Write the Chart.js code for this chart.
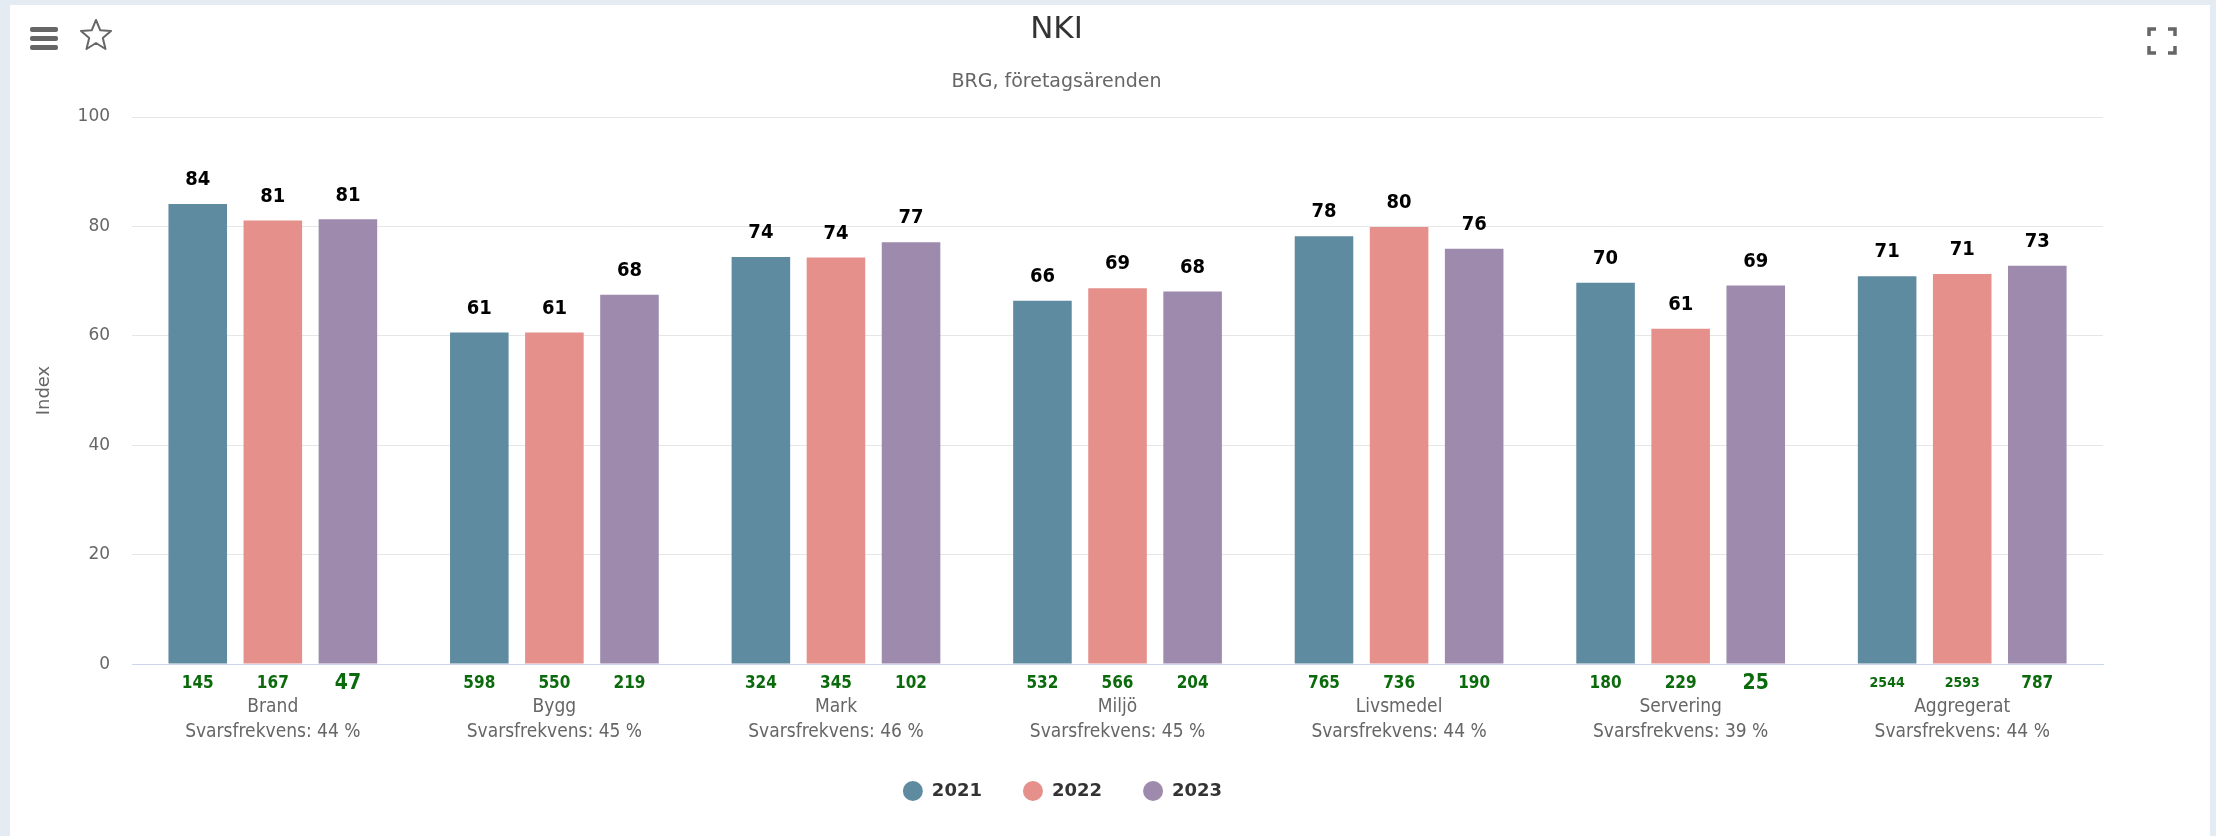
<!DOCTYPE html>
<html>
<head>
<meta charset="utf-8">
<title>NKI</title>
<script src="https://cdn.jsdelivr.net/npm/chart.js@4.4.1/dist/chart.umd.min.js"></script>
<style>
  html, body { margin: 0; padding: 0; width: 2216px; height: 836px; overflow: hidden; background: #e4ebf3; }
  #card { position: absolute; left: 10px; top: 5px; width: 2200px; height: 831px; background: #fff; }
  #chart { display: block; }
  .menu { position: absolute; left: 20px; top: 22px; width: 28px; }
  .menu span { display: block; height: 5px; margin-bottom: 4px; background: #666; border-radius: 2px; }
  .icon { position: absolute; }
</style>
</head>
<body>
<div id="card">
  <canvas id="chart" width="2200" height="831"></canvas>
  <div class="menu"><span></span><span></span><span></span></div>
  <svg class="icon" style="left:69px;top:13px" width="34" height="34" viewBox="0 0 34 34">
    <polygon points="17,2 21.3,12.3 32,13 23.8,20 26.5,31 17,25 7.5,31 10.2,20 2,13 12.7,12.3"
             fill="none" stroke="#666" stroke-width="2" stroke-linejoin="round"/>
  </svg>
  <svg class="icon" style="left:2137px;top:22px" width="30" height="28" viewBox="0 0 30 28">
    <g fill="none" stroke="#666" stroke-width="3.5">
      <polyline points="2,9 2,2 9,2"/><polyline points="21,2 28,2 28,9"/>
      <polyline points="2,19 2,26 9,26"/><polyline points="21,26 28,26 28,19"/>
    </g>
  </svg>
</div>
<script>
// NKI per verksamhet och år
const categories = ['Brand', 'Bygg', 'Mark', 'Miljö', 'Livsmedel', 'Servering', 'Aggregerat'];
const responseRates = [44, 45, 46, 45, 44, 39, 44];
const years = ['2021', '2022', '2023'];
const nki2021 = [84.1, 60.6, 74.4, 66.4, 78.2, 69.7, 70.9];
const nki2022 = [81.1, 60.6, 74.3, 68.7, 79.9, 61.3, 71.3];
const nki2023 = [81.3, 67.5, 77.1, 68.1, 75.9, 69.2, 72.8];
// antal svar under staplarna
const answers2021 = [145, 598, 324, 532, 765, 180, 2544];
const answers2022 = [167, 550, 345, 566, 736, 229, 2593];
const answers2023 = [47, 219, 102, 204, 190, 25, 787];
const yTicks = [0, 20, 40, 60, 80, 100];

const colors = ['#5f8ba1', '#e5908b', '#9d8aac'];
const answers = [answers2021, answers2022, answers2023];
const narrow = '"Liberation Sans Narrow", "DejaVu Sans Condensed", "Noto Sans", sans-serif';

// value labels above bars and answer counts under the axis
const labelsPlugin = {
    id: 'labelsPlugin',
    afterDatasetsDraw(chart) {
        const ctx = chart.ctx;
        const axisY = chart.scales.y.getPixelForValue(0);
        ctx.save();
        ctx.textAlign = 'center';
        ctx.textBaseline = 'middle';
        chart.data.datasets.forEach((ds, i) => {
            const meta = chart.getDatasetMeta(i);
            meta.data.forEach((bar, j) => {
                ctx.font = 'bold 20px ' + narrow;
                ctx.fillStyle = '#000';
                ctx.fillText(String(Math.round(ds.data[j])), bar.x, bar.y - 24);

                const n = String(answers[i][j]);
                const size = n.length <= 2 ? 21 : (n.length >= 4 ? 14 : 17);
                ctx.font = 'bold ' + size + 'px ' + narrow;
                ctx.fillStyle = '#0b6a0b';
                ctx.fillText(n, bar.x, axisY + 19);
            });
        });
        ctx.restore();
    }
};

// legend sits higher than its box, and centred on the whole card
const legendNudge = {
    id: 'legendNudge',
    afterLayout(chart) {
        chart.legend.top -= 26;
        chart.legend.bottom -= 26;
        chart.legend.left += 6;
        chart.legend.right += 6;
    }
};

new Chart(document.getElementById('chart').getContext('2d'), {
    type: 'bar',
    data: {
        labels: categories.map((c, i) => [c, 'Svarsfrekvens: ' + responseRates[i] + ' %']),
        datasets: [
            { label: years[0], data: nki2021, backgroundColor: colors[0] },
            { label: years[1], data: nki2022, backgroundColor: colors[1] },
            { label: years[2], data: nki2023, backgroundColor: colors[2] }
        ]
    },
    options: {
        responsive: false,
        animation: false,
        categoryPercentage: 0.8,
        barPercentage: 0.78,
        layout: { padding: { left: 0, right: 107, top: 0, bottom: 0 } },
        plugins: {
            title: {
                display: true,
                text: 'NKI',
                color: '#333',
                font: { family: '"DejaVu Sans", sans-serif', size: 31, weight: 'normal' },
                padding: { top: 6, bottom: 0 }
            },
            subtitle: {
                display: true,
                text: 'BRG, företagsärenden',
                color: '#666',
                font: { family: '"DejaVu Sans", sans-serif', size: 19 },
                padding: { top: 22, bottom: 24 }
            },
            legend: {
                position: 'bottom',
                labels: {
                    usePointStyle: true,
                    pointStyle: 'circle',
                    boxHeight: 14,
                    pointStyleWidth: 20,
                    padding: 41,
                    color: '#333',
                    font: { family: '"DejaVu Sans", sans-serif', size: 18, weight: 'bold' }
                }
            },
            tooltip: { enabled: false }
        },
        scales: {
            x: {
                grid: { display: false },
                border: { color: '#ccd6eb', width: 1 },
                ticks: {
                    padding: 22,
                    color: '#666',
                    font: { family: narrow, size: 19, lineHeight: 1.34 }
                }
            },
            y: {
                min: 0,
                max: 100,
                afterBuildTicks: (axis) => { axis.ticks = yTicks.map(v => ({ value: v })); },
                grid: { color: '#e6e6e6', drawTicks: false },
                border: { display: false },
                ticks: {
                    padding: 22,
                    color: '#666',
                    font: { family: '"DejaVu Sans", sans-serif', size: 17 }
                },
                title: {
                    display: true,
                    text: 'Index',
                    color: '#666',
                    font: { family: '"DejaVu Sans", sans-serif', size: 18 },
                    padding: { top: 24, bottom: 0 }
                }
            }
        }
    },
    plugins: [labelsPlugin, legendNudge]
});
</script>
</body>
</html>
